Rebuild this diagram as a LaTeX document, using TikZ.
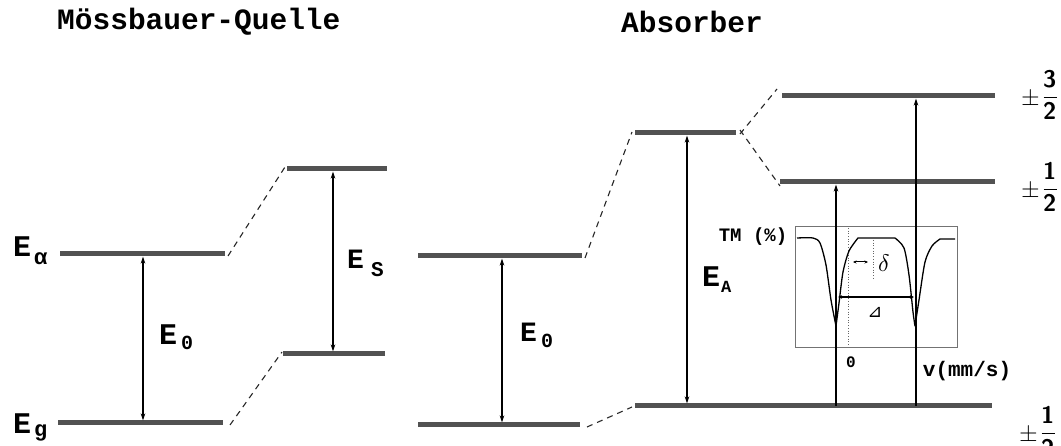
\documentclass[tikz,border=0pt]{standalone}
\usepackage{amsmath}
\usepackage{fontspec}
\usepackage{unicode-math}
\setmathfont{Latin Modern Math}
\setmonofont{Liberation Mono}
\newfontfamily\symfont{DejaVu Sans}
\usetikzlibrary{arrows.meta}
\newcommand\fs[1]{\fontsize{#1}{#1}\selectfont}
% E with a lowered index: #1 index, #2 kern, #3 drop, #4 index size
\newcommand\Elab[4]{E\kern#2\raisebox{-#3}{\fs{#4}#1}}
\newcommand\spinq[2]{$\pm\kern2pt\dfrac{\symbfsf{#1}}{\symbfsf{#2}}$}
\begin{document}
\begin{tikzpicture}[x=1pt,y=-1pt,
  level/.style={line width=5pt, draw=black!68},
  link/.style={line width=1.1pt, dash pattern=on 6pt off 5pt, draw=black!85},
  trans/.style={line width=1.8pt, shorten <=2.5pt, shorten >=2.5pt,
    {Stealth[length=7pt,width=4.5pt]}-{Stealth[length=7pt,width=4.5pt]}},
  upward/.style={line width=1.8pt, shorten >=2.5pt, -{Stealth[length=7pt,width=4.5pt]}},
  title/.style={font=\ttfamily\bfseries\fs{29.5}, inner sep=0pt, anchor=base west},
  elab/.style={font=\ttfamily\bfseries\fs{30}, inner sep=0pt, anchor=base west},
  small/.style={font=\ttfamily\bfseries\fs{19}, inner sep=0pt},
  frac/.style={font=\fs{24}, inner sep=0pt}
]
\useasboundingbox (0,0) rectangle (1061,446);

% ---- level end points ----
\coordinate (qaL) at (60,254);  \coordinate (qaR) at (225,254);
\coordinate (qgL) at (58,423);  \coordinate (qgR) at (223,423);
\coordinate (qsL) at (287,169); \coordinate (qsR) at (387,169);
\coordinate (qtL) at (283,354); \coordinate (qtR) at (385,354);
\coordinate (auL) at (418,256); \coordinate (auR) at (582,256);
\coordinate (agL) at (418,425); \coordinate (agR) at (580,425);
\coordinate (eaL) at (635,133); \coordinate (eaR) at (736,133);
\coordinate (grL) at (635,406); \coordinate (grR) at (992,406);
\coordinate (h3L) at (782,96);  \coordinate (h3R) at (995,96);
\coordinate (h1L) at (780,182); \coordinate (h1R) at (995,182);

% ---- levels ----
\foreach \a/\b in {qaL/qaR,qgL/qgR,qsL/qsR,qtL/qtR,auL/auR,agL/agR,eaL/eaR,grL/grR,h3L/h3R,h1L/h1R}
  \draw[level] (\a) -- (\b);

% ---- dashed correlations ----
\draw[link] ([xshift=3pt,yshift=-2pt]qaR) -- ([xshift=-2pt,yshift=2pt]qsL);
\draw[link] ([xshift=7pt,yshift=-2pt]qgR) -- ([xshift=-1pt,yshift=2pt]qtL);
\draw[link] ([xshift=3pt,yshift=-2pt]auR) -- ([xshift=-3pt,yshift=1pt]eaL);
\draw[link] ([xshift=7pt,yshift=-2pt]agR) -- ([xshift=-3pt,yshift=-1pt]grL);
\draw[link] ([xshift=4pt,yshift=-1pt]eaR) -- ([xshift=-5pt,yshift=7pt]h3L);
\draw[link] ([xshift=4pt,yshift=3pt]eaR) -- ([yshift=-4pt]h1L);

% ---- transition points ----
\coordinate (s0t) at (143,254); \coordinate (s0b) at (143,423);
\coordinate (sst) at (333,169); \coordinate (ssb) at (333,354);
\coordinate (a0t) at (502,256); \coordinate (a0b) at (502,425);
\coordinate (aat) at (687,133); \coordinate (aab) at (687,406);
\coordinate (l1b) at (836,406); \coordinate (l1t) at (836,182);
\coordinate (l3b) at (916,406); \coordinate (l3t) at (916,96);

% ---- inset: transmission spectrum ----
\node[draw=black!55, line width=0.8pt, minimum width=162pt, minimum height=121pt,
      inner sep=0pt] (tmbox) at (876,286.5) {};
\draw[black!60, line width=0.7pt, dotted] (848,228) -- (848,345);
\draw[black!60, line width=0.7pt, dotted] (873,240) -- (873,278);
\draw[line width=1.3pt, line join=round] plot[smooth, tension=0.45] coordinates {
  (797,238) (813,238) (820,243) (826,265) (831,300) (836,326)}
  -- plot[smooth, tension=0.45] coordinates {
  (836,326) (839,303) (843,272) (849,251) (858,238)}
  -- (895,238)
  -- plot[smooth, tension=0.45] coordinates {
  (895,238) (904,248) (909,275) (913,312) (915,326)}
  -- plot[smooth, tension=0.45] coordinates {
  (915,326) (919,300) (925,262) (932,246) (940,239)}
  -- (955,239);
\coordinate (dL) at (853,262); \coordinate (dR) at (868,262);
\draw[line width=1pt, {Stealth[length=3.5pt,width=3pt]}-{Stealth[length=3.5pt,width=3pt]}] (dL) -- (dR);
\coordinate (DL) at (838,297); \coordinate (DR) at (914,297);
\draw[line width=1.5pt, {Stealth[length=4pt,width=3.5pt]}-{Stealth[length=4pt,width=3.5pt]}] (DL) -- (DR);

% ---- transitions ----
\draw[trans] (s0t) -- (s0b);
\draw[trans] (sst) -- (ssb);
\draw[trans] (a0t) -- (a0b);
\draw[trans] (aat) -- (aab);
\draw[upward] (l1b) -- (l1t);
\draw[upward] (l3b) -- (l3t);

% ---- headings ----
\node[title] (tsrc) at (57,30) {Mössbauer-Quelle};
\node[title] (tabs) at (621,33) {Absorber};

% ---- energy labels ----
\node[elab] (lEa) at (13,257) {\Elab{α}{3pt}{8pt}{22}};
\node[elab] (lEg) at (13,433) {\Elab{g}{3pt}{3pt}{22}};
\node[elab] (lE0s) at (159,345) {\Elab{0}{4pt}{5pt}{20}};
\node[elab, font=\ttfamily\bfseries\fs{28}] (lEs) at (347,269) {\Elab{S}{7pt}{8pt}{21}};
\node[elab, font=\ttfamily\bfseries\fs{28}] (lE0a) at (520,342) {\Elab{0}{4pt}{6pt}{20}};
\node[elab] (lEA) at (702,287) {\Elab{A}{1pt}{6pt}{17}};

% ---- spin quantum numbers ----
\node[frac] (m32) at (1040,95) {\spinq{3}{2}};
\node[frac] (m12u) at (1040,187) {\spinq{1}{2}};
\node[frac, anchor=north] (m12g) at (1038,406) {\spinq{1}{2}};

% ---- inset labels ----
\node[small] (tm) at (753,237) {TM (\%)};
\node[small, font=\ttfamily\bfseries\fs{21}] (vel) at (967,371) {v(mm/s)};
\node[small, font=\ttfamily\bfseries\fs{16}] (zero) at (851,362) {0};
\node[inner sep=0pt, font=\fs{24}] (dlt) at (884,263) {$\delta$};
\node[inner sep=0pt, font=\symfont\fs{18}] (Dlt) at (875,312) {⊿};
\end{tikzpicture}
\end{document}
